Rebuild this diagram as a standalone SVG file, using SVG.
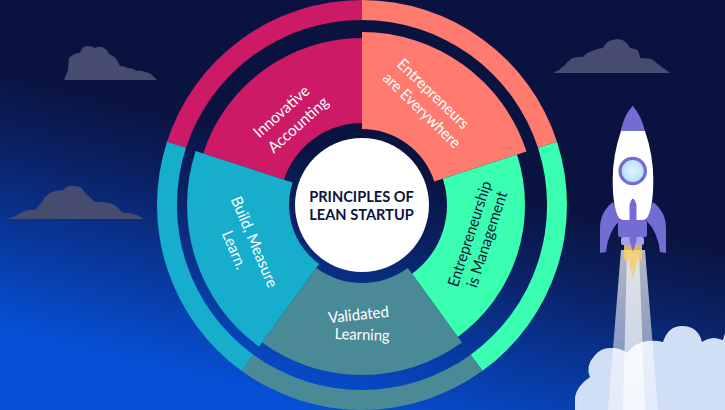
<svg xmlns="http://www.w3.org/2000/svg" width="725" height="410" viewBox="0 0 725 410">
<defs>
<linearGradient id="bg" gradientUnits="userSpaceOnUse" x1="390" y1="165" x2="330" y2="410">
<stop offset="0" stop-color="#0a1340"/><stop offset="0.3" stop-color="#0a2266"/><stop offset="1" stop-color="#0650d6"/>
</linearGradient>
<linearGradient id="trail" gradientUnits="userSpaceOnUse" x1="0" y1="250" x2="0" y2="410">
<stop offset="0" stop-color="#fff" stop-opacity=".7"/><stop offset="1" stop-color="#fff" stop-opacity=".4"/>
</linearGradient>
<radialGradient id="glass"><stop offset="0" stop-color="#e4f5fd"/><stop offset="1" stop-color="#b8e2f8"/></radialGradient>
</defs>
<style>
.lbl{font-family:Lato,"Open Sans",sans-serif;font-size:15.6px;font-weight:400;fill:#fff;text-anchor:middle}
.ttl{font-family:Lato,"Open Sans",sans-serif;font-size:14.6px;font-weight:700;fill:#0c1440;text-anchor:middle}
.cl{fill:#454c6f}
.fin{fill:#736cd2}
</style>
<rect width="725" height="410" fill="url(#bg)"/>
<path id="cloud-a" class="cl" d="M64 80L68 70L69 58Q74 53 80 53Q82 46 87 46Q92 46 95 48Q99 46 102 47Q107 49 109 54Q114 56 117 60L120 66Q124 66 128 68Q133 68 137 71Q141 70 145 72Q149 72 152 75L157 80Z"/>
<path id="cloud-b" class="cl" d="M8 219Q15 217 23 212Q29 209 35 210Q38 206 42 202Q45 196 50 193Q56 190 63 190Q68 185 74 186Q81 186 83 190L87 195Q92 199 95 202Q101 201 107 203Q113 203 117 207L123 213Q128 212 133 214Q139 215 143 219Z"/>
<path id="cloud-c" class="cl" d="M553 73Q560 70 565 65Q570 59 573 58Q580 56 583 57Q587 52 592 51Q598 48 603 48Q606 40 617 39Q626 39 630 48Q637 49 638 51Q640 55 640 58Q650 58 653 60Q660 66 670 73Z"/>
<g id="wheel-ring">
<path fill="#cc1a66" d="M362 0A205 205 0 0 0 167 141.700L186 147.800A185 185 0 0 1 362 20Z"/>
<path fill="#ff7b70" d="M362 0A205 205 0 0 1 557 141.700L538 147.800A185 185 0 0 0 362 20Z"/>
<path fill="#3bffb0" d="M557 141.700A205 205 0 0 1 482.500 370.800L470.700 354.700A185 185 0 0 0 538 147.800Z"/>
<path fill="#4a8a96" d="M482.500 370.800A205 205 0 0 1 241.500 370.800L253.300 354.700A185 185 0 0 0 470.700 354.700Z"/>
<path fill="#17aecd" d="M241.500 370.800A205 205 0 0 1 167 141.700L186 147.800A185 185 0 0 0 253.300 354.700Z"/>
</g>
<g id="node-innovative">
<path fill="#cc1a66" d="M362 38A167 167 0 0 0 203.200 153.400L284 179.700A82 82 0 0 1 362 123Z"/>
<text class="lbl" textLength="69" lengthAdjust="spacingAndGlyphs" transform="translate(285 115.500) rotate(-42)">Innovative</text>
<text class="lbl" textLength="75" lengthAdjust="spacingAndGlyphs" transform="translate(301.700 128.700) rotate(-42)">Accounting</text>
</g>
<g id="node-entrepreneurs">
<path fill="#ff7b70" d="M362 32A173 173 0 0 1 526.500 151.500L434.300 181.500A76 76 0 0 0 362 129Z"/>
<text class="lbl" textLength="93" lengthAdjust="spacingAndGlyphs" transform="translate(429.500 97.600) rotate(44)">Entrepreneurs</text>
<text class="lbl" textLength="101" lengthAdjust="spacingAndGlyphs" transform="translate(418 114) rotate(44)">are Everywhere</text>
</g>
<g id="node-management">
<path fill="#3bffb0" d="M442.800 178.700A85 85 0 0 1 412 273.800L457.800 336.900A163 163 0 0 0 517 154.600Z"/>
<text class="lbl" style="fill:#0c1440" textLength="110" lengthAdjust="spacingAndGlyphs" transform="translate(474.700 235.500) rotate(-72)">Entrepreneurship</text>
<text class="lbl" style="fill:#0c1440" textLength="100" lengthAdjust="spacingAndGlyphs" transform="translate(492 241) rotate(-72)">is Management</text>
</g>
<g id="node-validated">
<path fill="#4a8a96" d="M407.800 268.100A78 78 0 0 1 316.200 268.100L262.100 342.500A170 170 0 0 0 461.900 342.500Z"/>
<text class="lbl" textLength="61" lengthAdjust="spacingAndGlyphs" transform="translate(359 320) rotate(-6)">Validated</text>
<text class="lbl" textLength="55" lengthAdjust="spacingAndGlyphs" transform="translate(362 340) rotate(2)">Learning</text>
</g>
<g id="node-build">
<path fill="#17aecd" d="M195.600 151A175 175 0 0 0 259.100 346.600L319.100 264A73 73 0 0 1 292.600 182.400Z"/>
<text class="lbl" textLength="97" lengthAdjust="spacingAndGlyphs" transform="translate(249.400 244) rotate(67)">Build, Measure</text>
<text class="lbl" textLength="40" lengthAdjust="spacingAndGlyphs" transform="translate(229.400 252) rotate(67)">Learn.</text>
</g>
<g id="node-center">
<circle cx="362" cy="205" r="67" fill="#fff"/>
<text class="ttl" x="361.500" y="201.700">PRINCIPLES OF</text>
<text class="ttl" x="361.500" y="220">LEAN STARTUP</text>
</g>
<g id="cloud-d">
<path fill="#d0dff5" d="M575 410V397Q577 386 590 377Q585 366 595 355Q602 347 612 348Q621 348 627 353Q636 342 647 341Q656 340 663 342Q668 326 682 326Q698 326 702 342Q708 338 715 338L723 340L725 333V410Z"/>
</g>
<g id="rocket">
<path fill="url(#trail)" d="M621 250H645L658 410H608Z"/>
<path fill="#fff" fill-opacity=".6" d="M627 250H639L645 410H623Z"/>
<path fill="#f6cf6c" fill-opacity=".85" d="M624 245L624 258L627 264L628 258L631 270L633 280L635 270L638 258L639 264L642 258L642 245Z"/>
<path class="fin" d="M613 202Q600 212 600 228V253L606 252Q608 232 620 220Z"/>
<path class="fin" d="M653 202Q666 212 666 228V253L660 252Q658 232 646 220Z"/>
<path fill="#fff" d="M621 131Q612.700 155 612.700 180Q612.700 208 619 218Q620 220 623 220H643Q646 220 647 218Q653.300 208 653.300 180Q653.300 155 645 131Z"/>
<path class="fin" d="M620.700 131Q624 115 632.700 105.700Q641 115 645 131Z"/>
<circle cx="632.700" cy="171" r="14.300" fill="#736cd2"/>
<circle cx="632.700" cy="171" r="11" fill="url(#glass)"/>
<rect x="618" y="220" width="29" height="17" rx="2" fill="#736cd2"/>
<rect x="621" y="237" width="23" height="8" rx="2" fill="#a8a2e6"/>
<path class="fin" d="M629.500 205Q633 192 636.500 205V240L633 252L629.500 240Z"/>
</g>
</svg>
